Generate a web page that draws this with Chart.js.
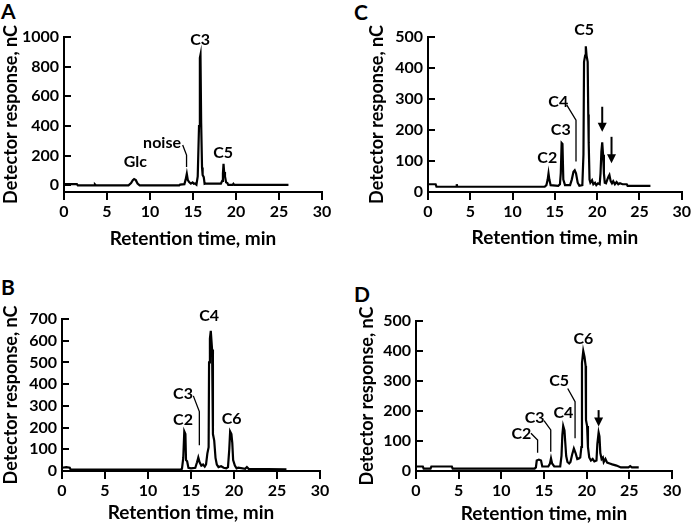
<!DOCTYPE html>
<html>
<head>
<meta charset="utf-8">
<script src="https://cdn.jsdelivr.net/npm/chart.js@4/dist/chart.umd.min.js"></script>
<style>
  html, body { margin: 0; padding: 0; background: #fff; }
  body { width: 693px; height: 528px; position: relative; overflow: hidden; font-family: Lato, "Open Sans", sans-serif; }
  canvas { position: absolute; }
  .plab { position: absolute; font: bold 21px Lato, sans-serif; color: #000; line-height: 1; }
</style>
</head>
<body>
<div class="plab" style="left:1px;top:0px;">A</div>
<div class="plab" style="left:354px;top:1px;">C</div>
<div class="plab" style="left:1px;top:276px;">B</div>
<div class="plab" style="left:354px;top:283px;">D</div>
<canvas id="cA" width="346" height="264" style="left:0;top:0"></canvas>
<canvas id="cB" width="346" height="264" style="left:0;top:264px"></canvas>
<canvas id="cC" width="347" height="264" style="left:346px;top:0"></canvas>
<canvas id="cD" width="347" height="264" style="left:346px;top:264px"></canvas>
<script>
// ---------- data (retention time, min / detector response, nC) ----------
const timeA = [0,1.5,1.6,3.5,3.6,3.7,7.5,7.8,8.0,8.15,8.35,8.55,8.8,13.4,13.5,14.0,14.15,14.28,14.4,14.55,14.75,14.95,15.1,15.25,15.4,15.55,15.7,15.8,15.87,15.95,16.05,16.12,16.25,16.35,16.5,18.25,18.4,18.48,18.55,18.62,18.72,18.85,19.0,19.1,19.6,19.7,19.8,26.1];
const respA = [8,8,0,0,6,0,0,15,35,42,35,12,0,0,5,8,40,78,35,22,12,20,10,12,5,60,400,860,880,420,120,70,55,10,12,12,30,80,145,90,60,20,15,3,3,10,3,3];

const timeB = [0,0.5,0.9,1.0,13.8,13.95,14.1,14.22,14.35,14.42,14.55,14.7,15.0,15.5,15.7,15.85,16.0,16.2,16.4,16.6,16.75,16.9,17.05,17.1,17.2,17.3,17.45,17.55,17.7,17.85,18.0,18.2,18.5,18.8,19.1,19.3,19.45,19.55,19.7,19.8,19.9,20.1,20.3,20.5,21.3,21.5,21.7,26.1];
const respB = [15,18,15,7,7,10,60,182,170,50,45,15,12,15,40,62,40,25,30,20,30,80,110,500,610,645,560,170,140,60,30,18,22,15,12,18,100,182,170,130,50,25,12,15,10,18,10,8];

const timeC = [0,0.9,1.0,3.35,3.4,3.45,13.8,14.0,14.15,14.25,14.35,14.5,15.4,15.6,15.7,15.8,15.9,16.0,16.2,16.8,17.0,17.2,17.35,17.5,17.7,17.9,18.25,18.38,18.45,18.58,18.66,18.75,18.88,18.95,19.0,19.1,19.2,19.4,19.55,19.75,19.9,20.1,20.3,20.4,20.5,20.6,20.7,20.8,20.9,21.05,21.2,21.35,21.45,21.6,21.75,21.9,22.1,22.3,22.5,22.7,23.0,23.5,23.6,26.3];
const respC = [25,25,17,17,25,17,17,22,40,60,40,22,20,25,60,158,155,40,22,22,40,65,70,60,30,20,22,120,420,440,470,440,420,250,160,40,30,38,25,30,22,28,25,60,130,160,120,60,30,28,40,50,55,35,28,35,25,32,25,28,25,25,20,20];

const timeD = [0,0.8,0.9,1.7,1.8,4.2,4.3,13.9,14.05,14.15,14.4,14.65,14.8,15.5,15.7,15.82,15.95,16.2,16.9,17.05,17.15,17.25,17.4,17.48,17.6,17.75,17.95,18.1,18.3,18.5,18.7,18.9,19.1,19.25,19.38,19.45,19.6,19.75,19.88,19.92,20.05,20.15,20.3,20.5,20.7,20.9,21.15,21.25,21.4,21.5,21.6,21.75,21.9,22.0,22.2,22.4,22.7,23.0,23.5,24.0,24.9,25.1,25.3,26.1];
const respD = [15,15,8,8,15,15,8,8,12,35,38,35,15,15,25,42,25,15,15,50,120,150,135,100,50,30,25,30,55,75,60,40,42,45,80,360,400,380,350,170,150,80,45,35,40,32,35,90,128,115,60,40,45,30,40,28,25,22,18,12,12,16,12,12];

// peak labels: [text, time, response]
const labelsA = [["Glc",8.3,156],["noise",11.4,289],["C3",15.83,980],["C5",18.5,221]];
const labelsB = [["C2",14.07,237],["C3",14.07,357],["C4",17.1,715],["C6",19.73,239]];
const labelsC = [["C2",14.1,110],["C3",15.7,202],["C4",15.4,290],["C5",18.46,523]];
const labelsD = [["C2",12.35,123],["C3",13.9,178],["C4",17.27,195],["C5",16.77,300],["C6",19.62,440]];
// leader lines: list of [time, response] vertices
const leadersA = [[[13.8,272],[14.25,204],[14.25,124]]];
const leadersB = [[[15.27,346],[15.97,274],[15.97,119]]];
const leadersC = [[[16.4,281],[17.5,232],[17.5,98]]];
const leadersD = [[[17.78,275],[18.64,231],[18.64,109]],[[15.0,168],[15.79,137],[15.79,64]],[[13.47,126],[14.25,103],[14.25,61]]];
// arrows: [time, response at tail, response at tip]
const arrowsA = [], arrowsB = [];
const arrowsC = [[20.6,275,194],[21.7,178,93]];
const arrowsD = [[21.4,203,148]];

const xTicks = [0,5,10,15,20,25,30];
const FONT = "Lato, 'Open Sans', sans-serif";
const INK = '#000';

const annot = {
  id: 'annot',
  afterDatasetsDraw(chart, args, o) {
    const ctx = chart.ctx, xs = chart.scales.x, ys = chart.scales.y;
    const X = t => xs.getPixelForValue(t), Y = v => ys.getPixelForValue(v);
    ctx.save();
    // inward y ticks
    ctx.strokeStyle = INK; ctx.lineWidth = 2;
    ys.ticks.forEach(tk => {
      const y = Math.round(ys.getPixelForValue(tk.value));
      ctx.beginPath(); ctx.moveTo(chart.chartArea.left, y); ctx.lineTo(chart.chartArea.left + 7, y); ctx.stroke();
    });
    ctx.fillStyle = INK;
    ctx.font = 'bold 16px ' + FONT;
    ctx.textAlign = 'center'; ctx.textBaseline = 'middle';
    o.labels.forEach(([s,t,v]) => ctx.fillText(s, X(t), Y(v)));
    ctx.lineWidth = 1.3;
    o.leaders.forEach(pts => {
      ctx.beginPath();
      pts.forEach(([t,v],i) => i ? ctx.lineTo(X(t), Y(v)) : ctx.moveTo(X(t), Y(v)));
      ctx.stroke();
    });
    o.arrows.forEach(([t,v1,v2]) => {
      const x = X(t), y1 = Y(v1), y2 = Y(v2);
      ctx.lineWidth = 2;
      ctx.beginPath(); ctx.moveTo(x, y1); ctx.lineTo(x, y2 - 6); ctx.stroke();
      ctx.beginPath(); ctx.moveTo(x - 4.5, y2 - 9); ctx.lineTo(x + 4.5, y2 - 9); ctx.lineTo(x, y2); ctx.closePath(); ctx.fill();
    });
    ctx.restore();
  }
};

function makePanel(id, time, resp, cfg) {
  new Chart(document.getElementById(id), {
    type: 'line',
    data: { datasets: [{ data: time.map((t,i) => ({x: t, y: resp[i]})), borderColor: INK, borderWidth: 2.2, pointRadius: 0, tension: 0, fill: false }] },
    options: {
      responsive: false, animation: false, devicePixelRatio: 1,
      layout: { padding: { top: cfg.padTop, right: cfg.padRight, left: 0, bottom: 0 } },
      plugins: { legend: { display: false }, tooltip: { enabled: false },
        annot: { labels: cfg.labels, leaders: cfg.leaders, arrows: cfg.arrows } },
      scales: {
        x: {
          type: 'linear', min: 0, max: 30,
          afterBuildTicks: s => { s.ticks = xTicks.map(v => ({value: v})); },
          ticks: { color: INK, font: { family: FONT, size: 16, weight: 'bold' }, padding: 2, maxRotation: 0, autoSkip: false, callback: v => String(v) },
          grid: { display: true, drawOnChartArea: false, drawTicks: true, tickLength: 8, color: INK, lineWidth: 2 },
          border: { display: true, color: INK, width: 2 },
          title: { display: true, text: 'Retention time, min', color: INK, font: { family: FONT, size: 19, weight: 'bold' }, padding: { top: 0, bottom: cfg.xTitlePad } },
          afterFit: s => { s.height = cfg.xH; }
        },
        y: {
          min: cfg.yMin, max: cfg.yMax,
          afterBuildTicks: s => { s.ticks = cfg.yTicks.map(v => ({value: v})); },
          ticks: { color: INK, font: { family: FONT, size: 16, weight: 'bold' }, padding: 5, autoSkip: false, callback: v => String(v) },
          grid: { display: false, drawTicks: false },
          border: { display: true, color: INK, width: 2 },
          title: { display: true, text: 'Detector response, nC', color: INK, font: { family: FONT, size: 18, weight: 'bold' }, padding: { top: cfg.yTitlePad, bottom: 0 } },
          afterFit: s => { s.width = cfg.yW; }
        }
      }
    },
    plugins: [annot]
  });
}

makePanel('cA', timeA, respA, { padTop: 37, padRight: 24, xH: 72, yW: 64, yMin: -45, yMax: 1000, yTicks: [0,200,400,600,800,1000], xTitlePad: 14, yTitlePad: 0, labels: labelsA, leaders: leadersA, arrows: arrowsA });
makePanel('cC', timeC, respC, { padTop: 37, padRight: 10, xH: 72, yW: 82, yMin: 0, yMax: 500, yTicks: [0,100,200,300,400,500], xTitlePad: 15, yTitlePad: 20, labels: labelsC, leaders: leadersC, arrows: arrowsC });
makePanel('cB', timeB, respB, { padTop: 55, padRight: 26, xH: 57, yW: 62, yMin: 0, yMax: 700, yTicks: [0,100,200,300,400,500,600,700], xTitlePad: 4, yTitlePad: 0, labels: labelsB, leaders: leadersB, arrows: arrowsB });
makePanel('cD', timeD, respD, { padTop: 57, padRight: 21, xH: 57, yW: 70, yMin: 0, yMax: 500, yTicks: [0,100,200,300,400,500], xTitlePad: 3, yTitlePad: 10, labels: labelsD, leaders: leadersD, arrows: arrowsD });
</script>
</body>
</html>
